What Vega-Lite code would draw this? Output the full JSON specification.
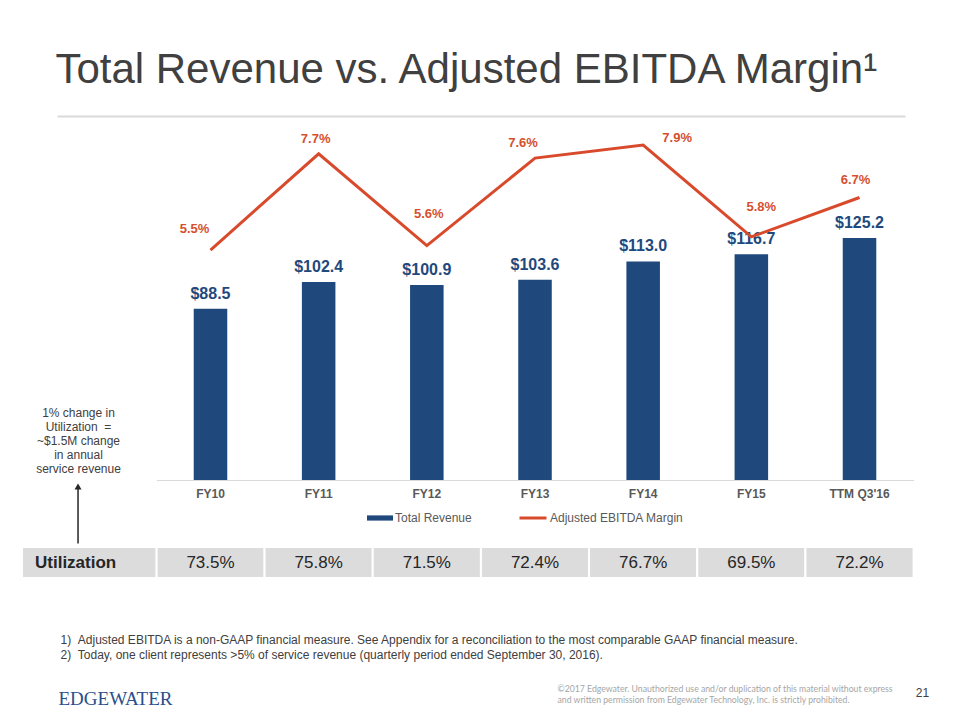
{
  "$schema": "https://vega.github.io/schema/vega-lite/v6.json",
  "width": 757.2,
  "height": 350,
  "autosize": "none",
  "padding": {"left": 156.4, "top": 130, "right": 46.4, "bottom": 240},
  "background": "white",
  "config": {"view": {"stroke": null}, "font": "Liberation Sans"},
  "title": {
    "text": "Total Revenue vs. Adjusted EBITDA Margin¹",
    "anchor": "start",
    "frame": "group",
    "font": "Liberation Sans",
    "fontSize": 42,
    "fontWeight": "normal",
    "color": "#404040",
    "dx": -101,
    "dy": -20
  },
  "data": {
    "values": [
      {"period": "FY10", "revenue": 88.5, "margin": 0.055, "util": 0.735},
      {"period": "FY11", "revenue": 102.4, "margin": 0.077, "util": 0.758},
      {"period": "FY12", "revenue": 100.9, "margin": 0.056, "util": 0.715},
      {"period": "FY13", "revenue": 103.6, "margin": 0.076, "util": 0.724},
      {"period": "FY14", "revenue": 113.0, "margin": 0.079, "util": 0.767},
      {"period": "FY15", "revenue": 116.7, "margin": 0.058, "util": 0.695},
      {"period": "TTM Q3'16", "revenue": 125.2, "margin": 0.067, "util": 0.722}
    ]
  },
  "layer": [
    {
      "layer": [
        {
          "encoding": {
            "x": {
              "field": "period", "type": "nominal", "sort": null,
              "scale": {"type": "band", "paddingInner": 0.69, "paddingOuter": 0.345},
              "axis": {
                "orient": "bottom", "labelAngle": 0, "labelFontSize": 12, "labelFontWeight": "bold",
                "labelColor": "#595959", "labelPadding": 8, "ticks": false, "grid": false,
                "domainColor": "#d9d9d9", "domainWidth": 1,
                "title": ["1)\u00a0\u00a0Adjusted EBITDA is a non-GAAP financial measure. See Appendix for a reconciliation to the most comparable GAAP financial measure.", "2)\u00a0\u00a0Today, one client represents >5% of service revenue (quarterly period ended September 30, 2016)."],
                "titleX": -96.4, "titleY": 154, "titleAlign": "left", "titleAnchor": "start", "titleBaseline": "top",
                "titleFontSize": 12, "titleFontWeight": "normal", "titleColor": "#404040", "titleLineHeight": 15
              }
            },
            "y": {
              "field": "revenue", "type": "quantitative",
              "scale": {"domain": [0, 181], "nice": false, "zero": true},
              "axis": {
                "orient": "left", "labels": false, "ticks": false, "domain": false, "grid": false,
                "title": ["1% change in", "Utilization\u00a0\u00a0=", "~$1.5M change", "in annual", "service revenue"],
                "titleAngle": 0, "titleX": -78.4, "titleY": 277, "titleAlign": "center", "titleBaseline": "top",
                "titleFontSize": 12, "titleFontWeight": "normal", "titleColor": "#404040", "titleLineHeight": 14
              }
            }
          },
          "layer": [
            {
              "mark": {"type": "bar"},
              "encoding": {
                "fill": {
                  "datum": "Total Revenue",
                  "scale": {"range": ["#1f497d"]},
                  "legend": {
                    "orient": "none", "legendX": 210.6, "legendY": 375, "title": null, "padding": 0,
                    "symbolType": "M-1,-0.2H1V0.2H-1Z", "symbolSize": 676, "symbolStrokeWidth": 0,
                    "labelFontSize": 12, "labelColor": "#595959", "labelOffset": 2
                  }
                }
              }
            },
            {
              "mark": {"type": "text", "baseline": "middle", "dy": -15, "fontSize": 16, "fontWeight": "bold", "color": "#1f497d"},
              "encoding": {"text": {"field": "revenue", "type": "quantitative", "format": "$.1f"}}
            }
          ]
        },
        {
          "encoding": {
            "x": {
              "field": "period", "type": "nominal", "sort": null, "bandPosition": 0.5,
              "scale": {"type": "band", "paddingInner": 0.69, "paddingOuter": 0.345},
              "axis": null
            },
            "y": {
              "field": "margin", "type": "quantitative",
              "scale": {"domain": [0.00243, 0.08243], "nice": false, "zero": false},
              "axis": {
                "orient": "right", "labels": false, "ticks": false, "domain": false, "grid": false,
                "title": ["©2017 Edgewater. Unauthorized use and/or duplication of this material without express", "and written permission from Edgewater Technology, Inc. is strictly prohibited."],
                "titleAngle": 0, "titleX": -356.6, "titleY": 554, "titleAlign": "left", "titleBaseline": "top",
                "titleFont": "Lato", "titleFontSize": 8.7, "titleFontWeight": "normal", "titleColor": "#a6a6a6", "titleLineHeight": 11
              }
            }
          },
          "layer": [
            {
              "mark": {"type": "line", "strokeWidth": 3},
              "encoding": {
                "stroke": {
                  "datum": "Adjusted EBITDA Margin",
                  "scale": {"range": ["#d84a2b"]},
                  "legend": {
                    "orient": "none", "legendX": 361.6, "legendY": 373, "title": null, "padding": 0,
                    "symbolType": "stroke", "symbolSize": 729, "symbolStrokeWidth": 3,
                    "labelFontSize": 12, "labelColor": "#595959", "labelOffset": 2
                  }
                }
              }
            },
            {"transform": [{"filter": {"field": "period", "equal": "FY10"}}], "mark": {"type": "text", "dx": -16, "dy": -21, "baseline": "middle", "fontSize": 13, "fontWeight": "bold", "color": "#d5502e"}, "encoding": {"text": {"field": "margin", "type": "quantitative", "format": ".1%"}}},
            {"transform": [{"filter": {"field": "period", "equal": "FY11"}}], "mark": {"type": "text", "dx": -3, "dy": -15, "baseline": "middle", "fontSize": 13, "fontWeight": "bold", "color": "#d5502e"}, "encoding": {"text": {"field": "margin", "type": "quantitative", "format": ".1%"}}},
            {"transform": [{"filter": {"field": "period", "equal": "FY12"}}], "mark": {"type": "text", "dx": 2, "dy": -32, "baseline": "middle", "fontSize": 13, "fontWeight": "bold", "color": "#d5502e"}, "encoding": {"text": {"field": "margin", "type": "quantitative", "format": ".1%"}}},
            {"transform": [{"filter": {"field": "period", "equal": "FY13"}}], "mark": {"type": "text", "dx": -12, "dy": -15, "baseline": "middle", "fontSize": 13, "fontWeight": "bold", "color": "#d5502e"}, "encoding": {"text": {"field": "margin", "type": "quantitative", "format": ".1%"}}},
            {"transform": [{"filter": {"field": "period", "equal": "FY14"}}], "mark": {"type": "text", "dx": 34, "dy": -7, "baseline": "middle", "fontSize": 13, "fontWeight": "bold", "color": "#d5502e"}, "encoding": {"text": {"field": "margin", "type": "quantitative", "format": ".1%"}}},
            {"transform": [{"filter": {"field": "period", "equal": "FY15"}}], "mark": {"type": "text", "dx": 10, "dy": -30, "baseline": "middle", "fontSize": 13, "fontWeight": "bold", "color": "#d5502e"}, "encoding": {"text": {"field": "margin", "type": "quantitative", "format": ".1%"}}},
            {"transform": [{"filter": {"field": "period", "equal": "TTM Q3'16"}}], "mark": {"type": "text", "dx": -4, "dy": -18, "baseline": "middle", "fontSize": 13, "fontWeight": "bold", "color": "#d5502e"}, "encoding": {"text": {"field": "margin", "type": "quantitative", "format": ".1%"}}}
          ]
        }
      ],
      "resolve": {"scale": {"y": "independent"}, "axis": {"x": "independent", "y": "independent"}}
    },
    {
      "encoding": {
        "x": {
          "field": "period", "type": "nominal", "sort": null,
          "scale": {"type": "band", "paddingInner": 0, "paddingOuter": 0},
          "axis": null
        },
        "y": {
          "datum": "Utilization", "type": "nominal",
          "scale": {"type": "band", "domain": ["Utilization"], "range": [417, 448], "paddingInner": 0, "paddingOuter": 0},
          "axis": {
            "orient": "left", "labels": false, "ticks": false, "domain": false, "grid": false,
            "title": "21", "titleAngle": 0, "titleX": 765.6, "titleY": 562, "titleAlign": "center", "titleBaseline": "middle",
            "titleFontSize": 12, "titleFontWeight": "normal", "titleColor": "#404040"
          }
        }
      },
      "layer": [
        {"mark": {"type": "rect", "fill": "#dcdcdc", "stroke": "white", "strokeWidth": 2}},
        {
          "mark": {"type": "text", "baseline": "middle", "fontSize": 17, "color": "#262626"},
          "encoding": {"text": {"field": "util", "type": "quantitative", "format": ".1%"}}
        }
      ]
    },
    {
      "data": {"values": [{"label": "Utilization"}]},
      "encoding": {
        "x": {
          "field": "label", "type": "nominal",
          "scale": {"type": "band", "domain": ["Utilization"], "range": [-134.4, 0], "paddingInner": 0, "paddingOuter": 0},
          "axis": {
            "orient": "bottom", "labels": false, "ticks": false, "domain": false, "grid": false,
            "title": "EDGEWATER", "titleX": -98.4, "titleY": 224, "titleAlign": "left", "titleAnchor": "start", "titleBaseline": "alphabetic",
            "titleFont": "Liberation Serif", "titleFontSize": 19, "titleFontWeight": "normal", "titleColor": "#2b4e8c"
          }
        },
        "y": {
          "field": "label", "type": "nominal",
          "scale": {"type": "band", "domain": ["Utilization"], "range": [417, 448], "paddingInner": 0, "paddingOuter": 0},
          "axis": null
        }
      },
      "layer": [
        {"mark": {"type": "rect", "fill": "#dcdcdc", "stroke": "white", "strokeWidth": 2}},
        {
          "mark": {"type": "text", "align": "left", "baseline": "middle", "dx": 13, "fontSize": 17, "fontWeight": "bold", "color": "#262626"},
          "encoding": {
            "x": {"field": "label", "type": "nominal", "bandPosition": 0},
            "text": {"field": "label", "type": "nominal"}
          }
        }
      ]
    },
    {
      "data": {"values": [{"note": "1% change in Utilization"}]},
      "encoding": {
        "x": {
          "field": "note", "type": "nominal", "bandPosition": 0.0248,
          "scale": {"type": "band", "range": [-99.4, 748.6], "paddingInner": 0, "paddingOuter": 0},
          "axis": {"orient": "top", "labels": false, "ticks": false, "grid": false, "title": null, "offset": 14, "domainColor": "#dadada", "domainWidth": 2}
        },
        "y": {
          "field": "note", "type": "nominal",
          "scale": {"type": "band", "range": [417, 448], "paddingInner": 0, "paddingOuter": 0},
          "axis": null
        }
      },
      "layer": [
        {"mark": {"type": "tick", "orient": "vertical", "size": 56, "thickness": 1.5, "color": "#262626", "opacity": 1, "yOffset": -47}},
        {"mark": {"type": "point", "shape": "triangle-up", "filled": true, "size": 49, "color": "#262626", "opacity": 1, "yOffset": -76}}
      ]
    }
  ],
  "resolve": {"scale": {"x": "independent", "y": "independent"}, "axis": {"x": "independent", "y": "independent"}}
}
